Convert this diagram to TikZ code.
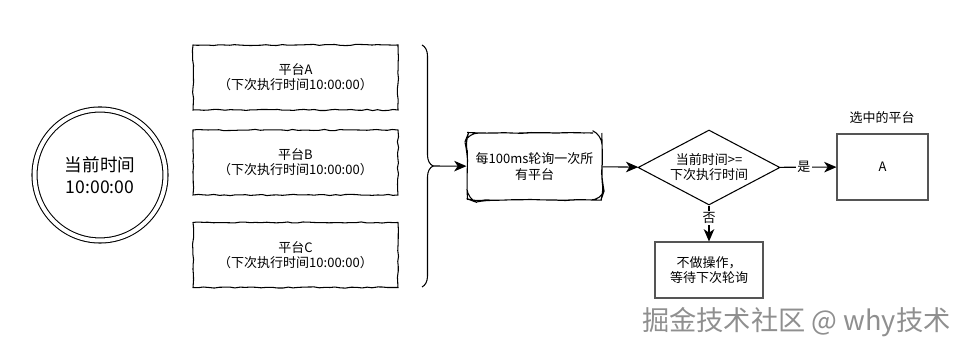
\documentclass[tikz,border=0pt]{standalone}
\usepackage{fontspec}
\setmainfont{Noto Sans CJK SC}
\usetikzlibrary{arrows.meta,shapes.geometric,decorations.pathmorphing,decorations.pathreplacing}
\definecolor{edgegray}{HTML}{555555}
\definecolor{markgray}{HTML}{8F8F8F}

\begin{document}
\begin{tikzpicture}[x=0.02cm, y=-0.02cm, line width=0.6pt,
  font=\fontsize{7.4}{8.6}\selectfont,
  wobble/.style={decorate, decoration={random steps, segment length=3pt, amplitude=0.35pt}},
  clock/.style={circle, draw, double, double distance=0.08cm, line width=0.6pt,
    minimum size=2.62cm, inner sep=0pt, align=center, font=\fontsize{10}{12.6}\selectfont},
  plat/.style={draw, wobble, align=center, minimum width=4.1cm, minimum height=1.3cm, inner sep=0pt},
  poll/.style={draw, decorate, decoration={random steps, segment length=5pt, amplitude=0.3pt},
    rounded corners=0.2cm, align=center,
    minimum width=2.7cm, minimum height=1.34cm, inner sep=0pt},
  judge/.style={diamond, draw, aspect=1.9, align=center,
    minimum width=2.84cm, minimum height=1.5cm, inner sep=0pt},
  box/.style={draw=edgegray, align=center, inner sep=0pt},
  lbl/.style={fill=white, inner sep=1pt},
  link/.style={-{Stealth[length=7pt, width=6pt, inset=2pt]}}]
  \useasboundingbox (0,0) rectangle (970,350);
  \pgfmathsetseed{7}
  % 현재 시각
  \node[clock] (now) at (100,175) {当前时间\\10:00:00};
  % 플랫폼 세 개
  \node[plat] (pa) at (295.5,77.5) {平台A\\（下次执行时间10:00:00）};
  \node[plat] (pb) at (295.5,162.5) {平台B\\（下次执行时间10:00:00）};
  \node[plat] (pc) at (295.5,255) {平台C\\（下次执行时间10:00:00）};
  % 중괄호
  \coordinate (bt) at (422,45); \coordinate (bb) at (422,287);
  \coordinate (btip) at (433,166);
  \draw[decorate, decoration={brace, amplitude=0.22cm}] (bt) -- (bb);
  % 폴링과 판단
  \node[poll] (poll) at (534.5,166.5) {每100ms轮询一次所\\有平台};
  \node[judge] (judge) at (709,167.5) {当前时间>=\\下次执行时间};
  \node[box, minimum width=1.82cm, minimum height=1.32cm] (pick) at (882.5,167) {A};
  \node (pickt) at (882,118) {选中的平台};
  \node[box, minimum width=2.16cm, minimum height=1.12cm] (wait) at (709,270) {不做操作，\\等待下次轮询};
  \draw[link] (btip) -- (poll);
  \draw[link] (poll) -- (judge);
  \draw[link] (judge) -- node[lbl, pos=0.42] {是} (pick);
  \draw[link] (judge) -- node[lbl, pos=0.35] {否} (wait);
  % 워터마크
  \node[anchor=east, text=markgray, font=\fontsize{15.5}{18}\selectfont] (mark) at (957,322) {掘金技术社区 @ why技术};
\end{tikzpicture}
\end{document}
